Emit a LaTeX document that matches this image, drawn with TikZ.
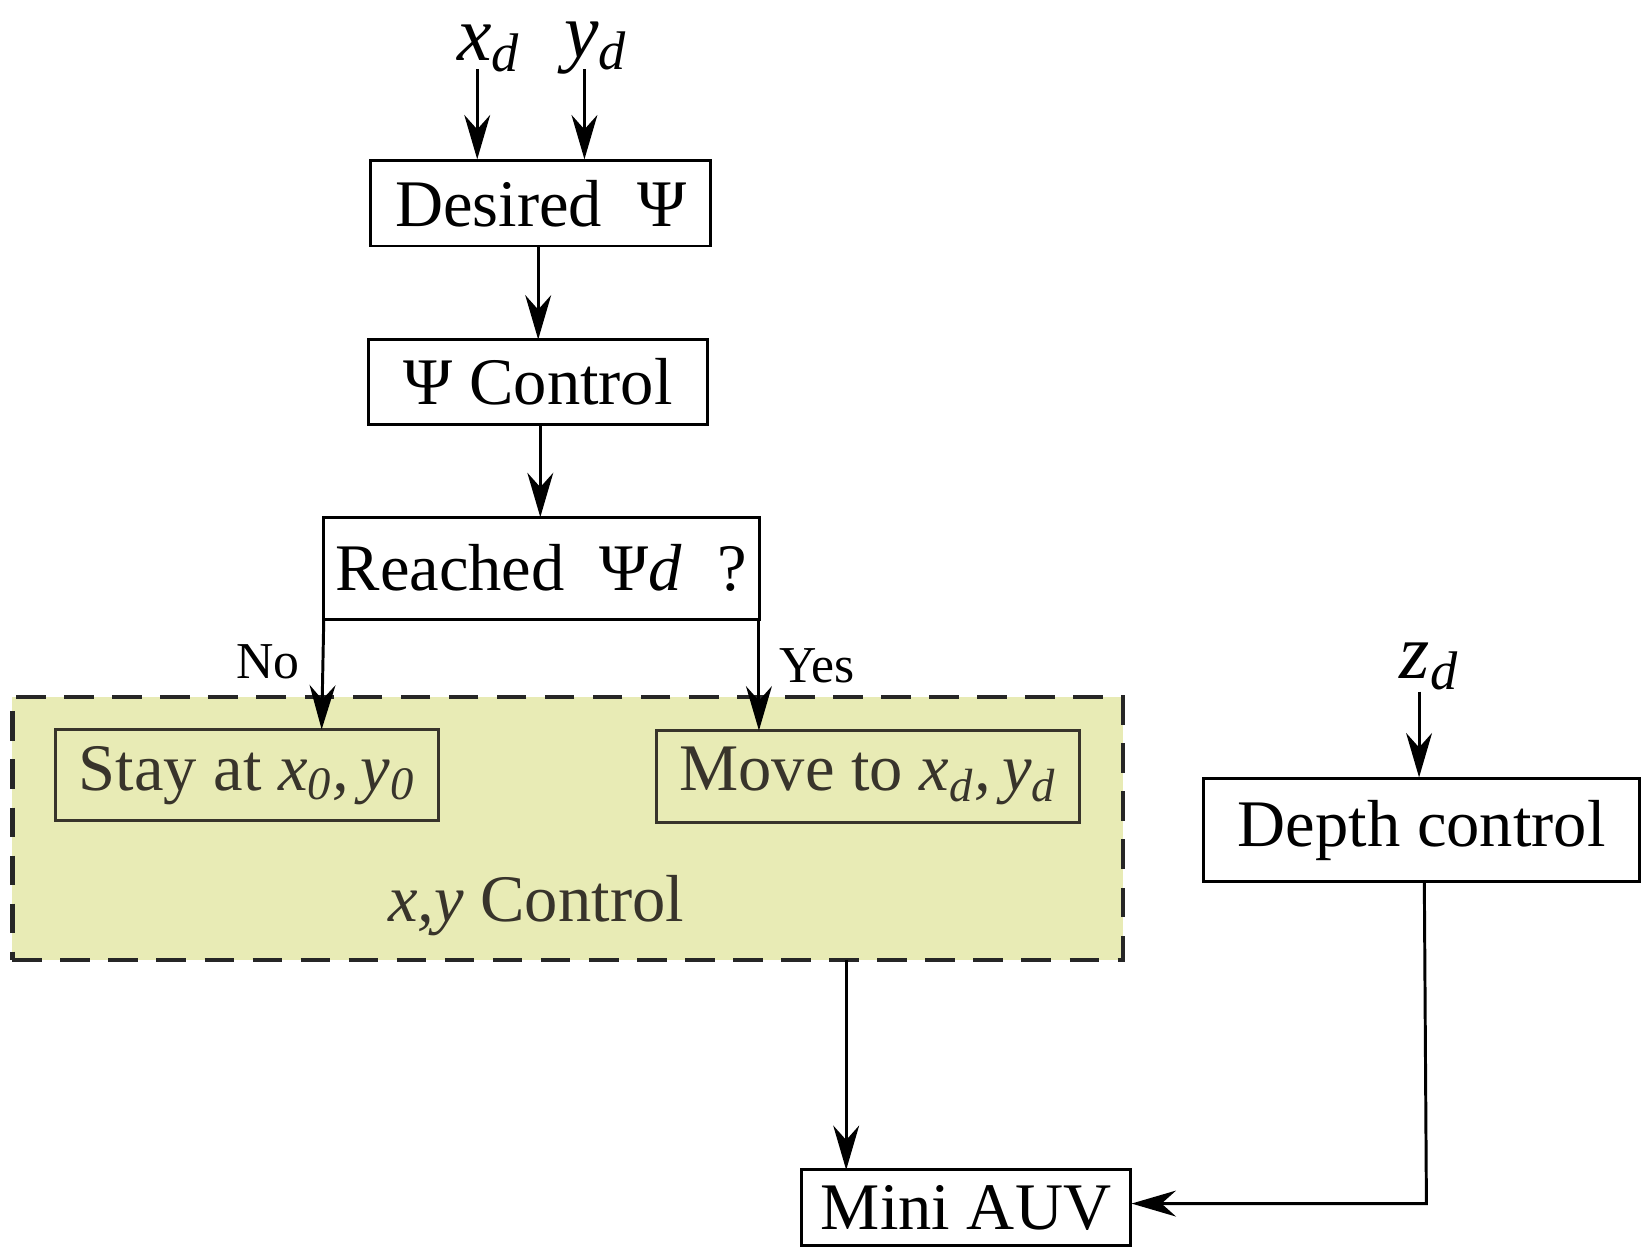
\documentclass[tikz,border=0pt]{standalone}
\usepackage{fontspec}
\setmainfont{Liberation Serif}
\usetikzlibrary{arrows.meta}
\begin{document}
\begin{tikzpicture}[x=0.01cm,y=-0.01cm,
  box/.style={draw,thick,minimum height=0.8cm,inner sep=0pt,font=\fontsize{18}{20}\selectfont},
  gbox/.style={box,text=black!80!olive,draw=black!80!olive},
  arr/.style={-{Stealth[length=12pt,width=7pt]},thick},
  lab/.style={font=\fontsize{14}{16}\selectfont},
  sub/.style={font=\fontsize{21}{23}\selectfont\itshape}]
\useasboundingbox (0,0) rectangle (1564,1189);
\node[draw=black!85,dashed,dash pattern=on 8pt off 5pt,very thick,fill={rgb,255:red,232;green,235;blue,181},minimum width=10.56cm,minimum height=2.5cm] (xy) at (540,788) {};
\node[box,minimum width=3.23cm,minimum height=0.81cm] (des) at (514.5,193.5) {Desired\; Ψ};
\node[box,minimum width=3.22cm,minimum height=0.81cm] (psi) at (512,363.5) {Ψ Control};
\node[box,minimum width=4.14cm,minimum height=0.97cm] (rea) at (515,540.5) {Reached\; Ψ\textit{d}\; ?};
\node[gbox,minimum width=3.64cm,minimum height=0.87cm] (stay) at (235,737.5) {Stay at \textit{x}\textsubscript{\textit{0}}\textit{,}\,\textit{y}\textsubscript{\textit{0}}};
\node[gbox,minimum width=4.02cm,minimum height=0.87cm] (move) at (826,738.5) {Move to \textit{x}\textsubscript{\textit{d}}\textit{,}\,\textit{y}\textsubscript{\textit{d}}};
\node[font=\fontsize{18}{20}\selectfont,text=black!80!olive] (xyl) at (510,862) {\textit{x,y} Control};
\node[box,minimum width=4.15cm,minimum height=0.98cm] (dep) at (1352.5,790) {Depth control};
\node[box,minimum width=3.12cm,minimum height=0.72cm] (auv) at (919,1149) {Mini AUV};
\node[sub] (xd) at (465,46) {x\textsubscript{d}};
\node[sub] (yd) at (567,46) {y\textsubscript{d}};
\node[sub] (zd) at (1360,634) {z\textsubscript{d}};
\node[lab] (no) at (255,630) {No};
\node[lab] (yes) at (777,633) {Yes};
\coordinate (xa) at (454,66); \coordinate (ya) at (556,66); \coordinate (za) at (1350,658);
\draw[arr] (xa) -- (xa|-des.north);
\draw[arr] (ya) -- (ya|-des.north);
\draw[arr] (za) -- (za|-dep.north);
\draw[arr] (512,234) -- (512,323);
\draw[arr] (514,404) -- (514,492);
\draw[arr] (308,589) -- (306,694);
\draw[arr] (722,589) -- (722,695);
\draw[arr] (805,913) -- (805,1113);
\draw[arr] (1355,839) -- (1357,1145) -- (auv.east|-0,1145);
\end{tikzpicture}
\end{document}
